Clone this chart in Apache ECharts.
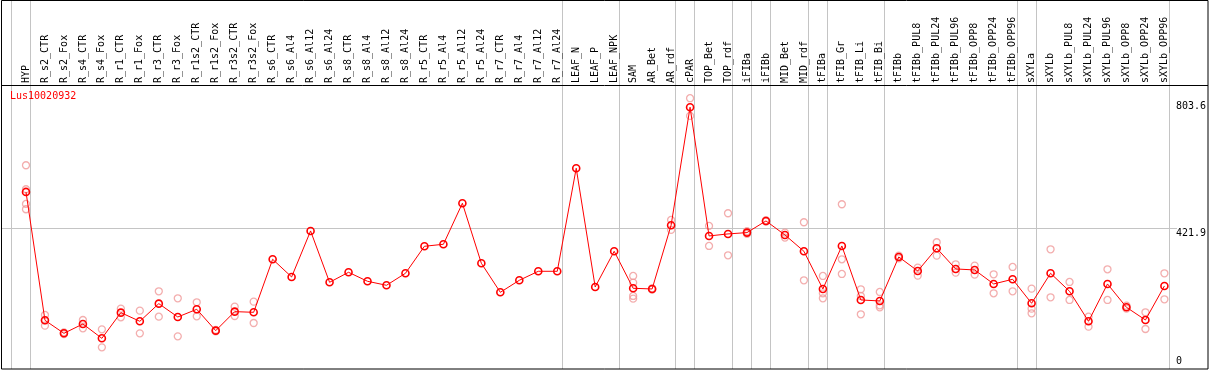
<!DOCTYPE html>
<html><head><meta charset="utf-8">
<script src="https://cdn.jsdelivr.net/npm/echarts@6/dist/echarts.min.js"></script>
<style>html,body{margin:0;padding:0;background:#fff}#c{width:1209px;height:370px}</style>
</head><body><div id="c"></div>
<script>
const geneId = 'Lus10020932';
const categories = ['HYP','R_s2_CTR','R_s2_Fox','R_s4_CTR','R_s4_Fox','R_r1_CTR','R_r1_Fox','R_r3_CTR','R_r3_Fox','R_r1s2_CTR','R_r1s2_Fox','R_r3s2_CTR','R_r3s2_Fox','R_s6_CTR','R_s6_Al4','R_s6_Al12','R_s6_Al24','R_s8_CTR','R_s8_Al4','R_s8_Al12','R_s8_Al24','R_r5_CTR','R_r5_Al4','R_r5_Al12','R_r5_Al24','R_r7_CTR','R_r7_Al4','R_r7_Al12','R_r7_Al24','LEAF_N','LEAF_P','LEAF_NPK','SAM','AR_Bet','AR_rdf','cPAR','TOP_Bet','TOP_rdf','iFIBa','iFIBb','MID_Bet','MID_rdf','tFIBa','tFIB_Gr','tFIB_Li','tFIB_Bi','tFIBb','tFIBb_PUL8','tFIBb_PUL24','tFIBb_PUL96','tFIBb_OPP8','tFIBb_OPP24','tFIBb_OPP96','sXYLa','sXYLb','sXYLb_PUL8','sXYLb_PUL24','sXYLb_PUL96','sXYLb_OPP8','sXYLb_OPP24','sXYLb_OPP96'];
const means = [531,146,107,135,92,169,143,196,156,179,115,172,170,329,276,414,260,290,263,251,287,368,374,497,317,230,266,293,293,602,246,353,242,240,431,785,399,405,409,444,402,353,240,369,207,204,336,294,362,300,297,255,269,197,287,233,143,255,185,147,249];
const replicates = [[611,539,495,479],[162,146,130],[110,105],[147,122],[119,65],[181,155],[175,107],[233,157],[212,98],[200,158],[117,113],[187,159],[202,138],[],[],[],[],[],[],[],[],[],[],[],[],[],[],[],[],[],[],[],[279,259,219,211],[242,238],[447,417],[812,759],[429,369],[467,341],[413,405],[446,442],[409,394],[440,266],[279,227,212],[494,329,285],[239,219,164],[231,191,185],[340,332],[304,280],[380,340],[314,289],[310,283],[284,227],[306,233],[241,181,167],[359,215],[261,207],[157,127],[299,207],[190,181],[170,120],[287,209]];
const yTickLabels = [421.9, 803.6];
const yZeroLabel = [0];
const yMax = 851.6;
const refLineValue = 421.9;
const groupEnds = [-1,0,28,31,34,35,37,38,39,41,42,45,52,53,60];

const repPoints = [];
replicates.forEach((arr, i) => arr.forEach(v => repPoints.push([i, v])));

const mono = 'DejaVu Sans Mono';
const chart = echarts.init(document.getElementById('c'));
chart.setOption({
  animation: false,
  backgroundColor: '#fff',
  title: {text: geneId, left: 10, top: 91, padding: 0,
    textStyle: {color: '#ff0000', fontFamily: mono, fontSize: 10, fontWeight: 'normal'}},
  grid: {left: 16.5, right: 32.9, top: 85, bottom: 1},
  xAxis: {type: 'category', data: categories, position: 'top', boundaryGap: true,
    axisLine: {show: false}, axisTick: {show: false}, splitLine: {show: false},
    axisLabel: {rotate: 90, interval: 0, margin: 2, fontFamily: mono, fontSize: 10, color: '#000', hideOverlap: false}},
  yAxis: [
    {type: 'value', min: 0, max: yMax, position: 'right',
      axisLine: {show: false}, axisTick: {show: false}, splitLine: {show: false},
      axisLabel: {customValues: yTickLabels, margin: 2, verticalAlign: 'top', fontFamily: mono, fontSize: 10, color: '#000',
        formatter: v => String(v)}},
    {type: 'value', min: 0, max: yMax, position: 'right',
      axisLine: {show: false}, axisTick: {show: false}, splitLine: {show: false},
      axisLabel: {customValues: yZeroLabel, margin: 2, verticalAlign: 'bottom', padding: [0,0,3,0], fontFamily: mono, fontSize: 10, color: '#000',
        formatter: v => String(v)}}
  ],
  series: [
    {type: 'scatter', data: repPoints, symbol: 'circle', symbolSize: 7, z: 2,
      itemStyle: {color: 'rgba(0,0,0,0)', borderColor: '#f09a9a', borderWidth: 1.3}},
    {type: 'line', data: means, symbol: 'circle', symbolSize: 7, z: 3,
      lineStyle: {color: '#ff0000', width: 1},
      itemStyle: {color: 'rgba(0,0,0,0)', borderColor: '#ff0000', borderWidth: 1.6}}
  ]
});

const c0 = chart.convertToPixel({xAxisIndex: 0}, 0);
const c1 = chart.convertToPixel({xAxisIndex: 0}, 1);
const band = c1 - c0;
const yRef = Math.round(chart.convertToPixel({yAxisIndex: 0}, refLineValue)) + 0.5;
const graphics = [];
groupEnds.forEach(i => {
  const x = Math.round(c0 + band * i + band * 0.23) + 0.5;
  graphics.push({type: 'line', z: 0, shape: {x1: x, y1: 0, x2: x, y2: 369}, style: {stroke: '#c4c4c4', lineWidth: 1}});
});
graphics.push({type: 'line', z: 0, shape: {x1: 1, y1: yRef, x2: 1177, y2: yRef}, style: {stroke: '#c4c4c4', lineWidth: 1}});
graphics.push({type: 'line', z: 10, shape: {x1: 1, y1: 85.5, x2: 1208, y2: 85.5}, style: {stroke: '#000', lineWidth: 1}});
graphics.push({type: 'rect', z: 10, shape: {x: 1.5, y: 0.5, width: 1206.5, height: 368.5}, style: {fill: null, stroke: '#000', lineWidth: 1}});
chart.setOption({graphic: graphics});
</script>
</body></html>
